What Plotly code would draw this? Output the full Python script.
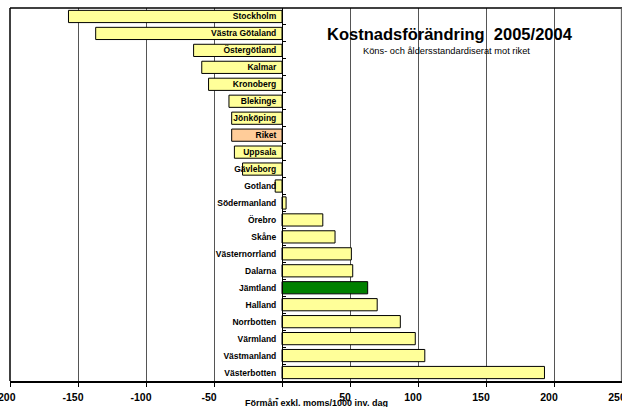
import plotly.graph_objects as go

# Regions, top to bottom, with cost change (benefits excl. VAT per 1000 inhabitants per day)
regions = ["Stockholm", "Västra Götaland", "Östergötland", "Kalmar", "Kronoberg",
           "Blekinge", "Jönköping", "Riket", "Uppsala", "Gävleborg", "Gotland",
           "Södermanland", "Örebro", "Skåne", "Västernorrland", "Dalarna",
           "Jämtland", "Halland", "Norrbotten", "Värmland", "Västmanland", "Västerbotten"]
change = [-157, -137, -65, -59, -54, -39, -37, -37, -35, -29, -5,
          3, 30, 39, 51, 52, 63, 70, 87, 98, 105, 193]

x_ticks = [-200, -150, -100, -50, 0, 50, 100, 150, 200, 250]
x_ticktext = ["-200", "-150", "-100", "-50", "-", "50", "100", "150", "200", "250"]

YELLOW = "#FFFF99"
colors = []
for r in regions:
    if r == "Riket":
        colors.append("#FFCC99")
    elif r == "Jämtland":
        colors.append("#008000")
    else:
        colors.append(YELLOW)

FONT = "Liberation Sans, Arial, sans-serif"
XMIN, XMAX = -200, 250

fig = go.Figure(go.Bar(
    y=regions,
    x=change,
    orientation="h",
    marker=dict(color=colors, line=dict(color="black", width=1)),
    hoverinfo="x+y",
))

fig.update_layout(
    width=622, height=407,
    margin=dict(l=10, r=0, t=8, b=26),
    paper_bgcolor="white",
    plot_bgcolor="white",
    bargap=0.28,
    showlegend=False,
    font=dict(family=FONT, color="black"),
    xaxis=dict(
        range=[XMIN, XMAX],
        tickvals=x_ticks,
        ticktext=x_ticktext,
        tickfont=dict(family=FONT, size=10.5, weight="bold", color="black"),
        ticks="outside", ticklen=4, tickcolor="black",
        ticklabelshift=-5,
        ticklabelstandoff=1,
        ticklabeloverflow="allow",
        automargin=False,
        showgrid=True, gridcolor="#555555", gridwidth=1,
        zeroline=False,
        showline=True, linecolor="black", linewidth=2,
        fixedrange=True,
    ),
    yaxis=dict(
        type="category",
        autorange="reversed",
        anchor="free",
        position=(0 - XMIN) / (XMAX - XMIN),
        automargin=False,
        showline=True, linecolor="black", linewidth=1,
        ticks="inside", ticklen=3, tickcolor="black",
        tickson="boundaries",
        ticklabelstandoff=4,
        tickfont=dict(family=FONT, size=8.5, weight="bold", color="black"),
        showgrid=False,
        zeroline=False,
        fixedrange=True,
    ),
)

# frame of the plot area: top edge, left edge and the right-hand grid edge
fig.add_shape(type="line", xref="paper", yref="paper", x0=0, x1=1, y0=1, y1=1,
              line=dict(color="black", width=1.5))
fig.add_shape(type="line", xref="paper", yref="paper", x0=0, x1=0, y0=0, y1=1,
              line=dict(color="black", width=1.5))
fig.add_shape(type="line", xref="paper", yref="paper", x0=0.999, x1=0.999, y0=0, y1=1,
              line=dict(color="#555555", width=1))

fig.add_annotation(text="<b>Kostnadsförändring  2005/2004</b>",
                   xref="paper", yref="paper", x=0.719, y=0.930,
                   xanchor="center", yanchor="middle", showarrow=False,
                   font=dict(family=FONT, size=16.5, color="black"))
fig.add_annotation(text="Köns- och åldersstandardiserat mot riket",
                   xref="paper", yref="paper", x=0.714, y=0.886,
                   xanchor="center", yanchor="middle", showarrow=False,
                   font=dict(family=FONT, size=9.3, color="black"))
fig.add_annotation(text="<b>Förmån exkl. moms/1000 inv. dag</b>",
                   xref="paper", yref="paper", x=0.5, y=-0.059,
                   xanchor="center", yanchor="middle", showarrow=False,
                   font=dict(family=FONT, size=9, color="black"))

fig.write_html("out.html")
